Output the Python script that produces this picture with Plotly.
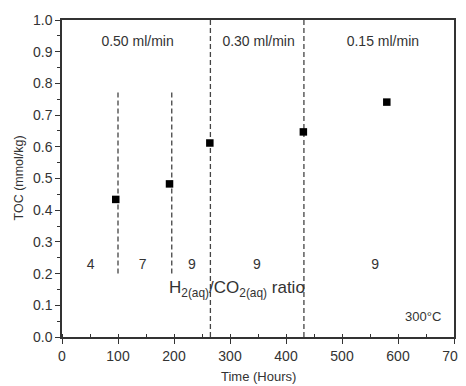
import plotly.graph_objects as go

# Data
time_hours = [96, 192, 264, 431, 580]
toc = [0.434, 0.483, 0.612, 0.647, 0.741]

# Divider lines (x position, y start, y end)
divider_x = [100, 196, 265, 432]
divider_y0 = [0.20, 0.20, 0.0, 0.0]
divider_y1 = [0.78, 0.78, 1.0, 1.0]

flow_labels = ["0.50 ml/min", "0.30 ml/min", "0.15 ml/min"]
flow_x = [135, 351, 573]
flow_y = [0.93, 0.93, 0.93]

ratio_labels = ["4", "7", "9", "9", "9"]
ratio_x = [51, 144, 232, 348, 559]
ratio_y = [0.227, 0.227, 0.227, 0.227, 0.227]

x_ticks = [0, 100, 200, 300, 400, 500, 600, 700]
y_ticks = [0.0, 0.1, 0.2, 0.3, 0.4, 0.5, 0.6, 0.7, 0.8, 0.9, 1.0]

FONT = "Liberation Sans, Arial, sans-serif"
DARK = "#333333"

fig = go.Figure()

for x, y0, y1 in zip(divider_x, divider_y0, divider_y1):
    fig.add_trace(go.Scatter(
        x=[x, x], y=[y0, y1], mode="lines",
        line=dict(color="#444444", width=1.3, dash="5px,3px"),
        hoverinfo="skip", showlegend=False))

fig.add_trace(go.Scatter(
    x=time_hours, y=toc, mode="markers",
    marker=dict(symbol="square", size=7.5, color="black"),
    showlegend=False))

fig.add_trace(go.Scatter(
    x=flow_x, y=flow_y, mode="text", text=flow_labels,
    textfont=dict(family=FONT, size=14, color=DARK),
    showlegend=False, hoverinfo="skip"))

fig.add_trace(go.Scatter(
    x=ratio_x, y=ratio_y, mode="text", text=ratio_labels,
    textfont=dict(family=FONT, size=14, color=DARK),
    showlegend=False, hoverinfo="skip"))

fig.add_annotation(
    x=313, y=0.15, xref="x", yref="y", showarrow=False,
    text="H<sub>2(aq)</sub>/CO<sub>2(aq)</sub> ratio",
    font=dict(family=FONT, size=17, color=DARK))

fig.add_annotation(
    x=644, y=0.064, xref="x", yref="y", showarrow=False,
    text="300°C",
    font=dict(family=FONT, size=13, color=DARK))

# Axis titles as annotations (fixed positions in paper space)
fig.add_annotation(
    x=0.5, y=0, xref="paper", yref="paper", xanchor="center", yanchor="middle",
    yshift=-39, showarrow=False,
    text="Time (Hours)", font=dict(family=FONT, size=13, color=DARK))
fig.add_annotation(
    x=0, y=0.5, xref="paper", yref="paper", xanchor="center", yanchor="middle",
    xshift=-44, showarrow=False,
    textangle=-90, text="TOC (mmol/kg)", font=dict(family=FONT, size=12.5, color=DARK))

# Page body adds an 8px offset, so the figure is sized to compensate
fig.update_layout(
    width=458, height=378,
    margin=dict(l=54, r=12, t=12, b=49),
    plot_bgcolor="white", paper_bgcolor="white",
    font=dict(family=FONT, color=DARK),
    xaxis=dict(
        range=[0, 700], tickvals=x_ticks, showgrid=False, zeroline=False,
        automargin=False,
        showline=True, linecolor=DARK, linewidth=1.5, mirror=True,
        ticks="outside", ticklen=5, tickwidth=1.2, tickcolor=DARK,
        tickfont=dict(family=FONT, size=14, color=DARK),
        minor=dict(dtick=50, ticks="inside", ticklen=3, tickwidth=1.2, tickcolor=DARK),
    ),
    yaxis=dict(
        range=[0, 1.0], tickvals=y_ticks, tickformat=".1f", showgrid=False, zeroline=False,
        automargin=False,
        showline=True, linecolor=DARK, linewidth=1.5, mirror=True,
        ticks="outside", ticklen=5, tickwidth=1.2, tickcolor=DARK,
        tickfont=dict(family=FONT, size=14, color=DARK),
        minor=dict(dtick=0.05, ticks="outside", ticklen=3, tickwidth=1.2, tickcolor=DARK),
    ),
)

fig.write_html("out.html")
